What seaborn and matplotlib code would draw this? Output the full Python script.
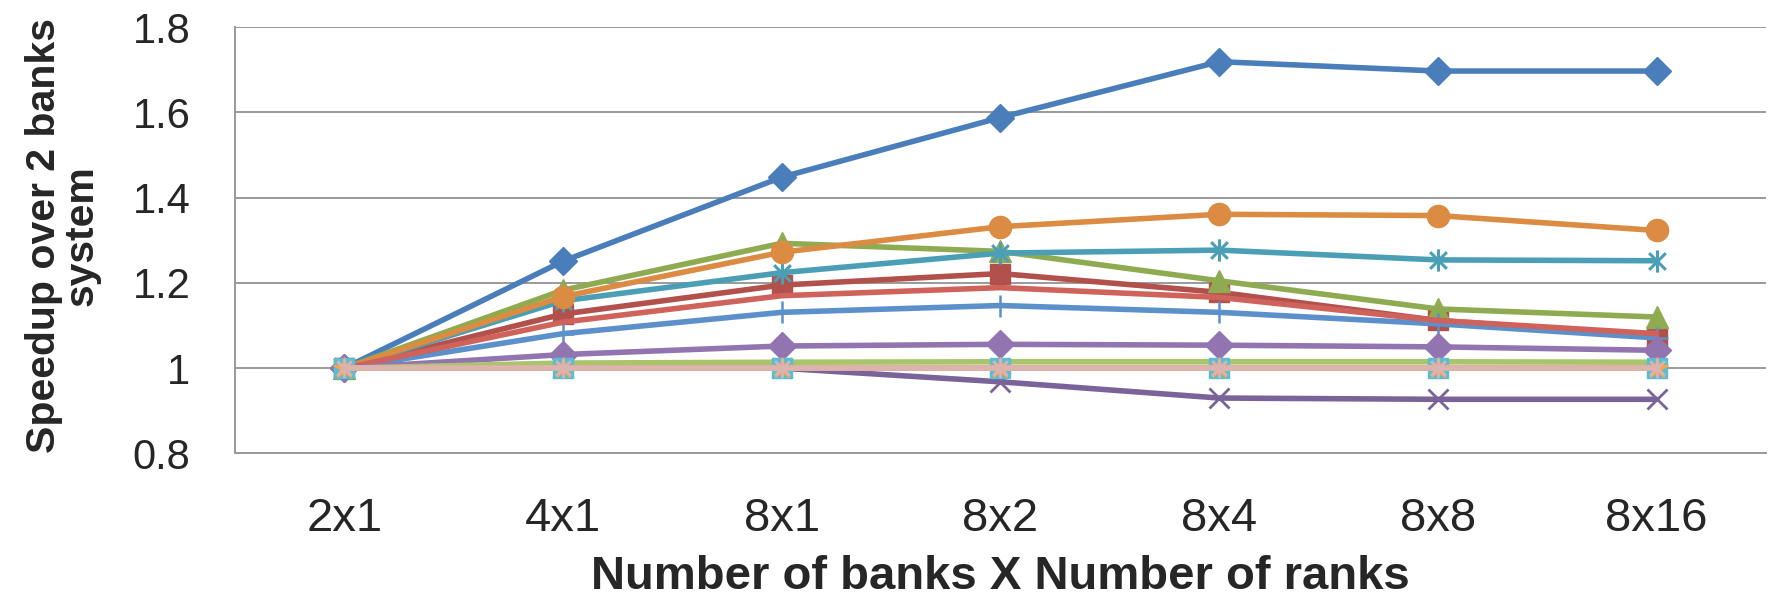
import numpy as np
import pandas as pd
import matplotlib
matplotlib.use('Agg')
import matplotlib.pyplot as plt
from matplotlib.path import Path
import seaborn as sns

# categories on the x axis
configs = ['2x1', '4x1', '8x1', '8x2', '8x4', '8x8', '8x16']

# speedup of each workload
s_blue = [1.0, 1.251, 1.448, 1.588, 1.719, 1.697, 1.697]
s_darkred = [1.0, 1.127, 1.195, 1.222, 1.178, 1.112, 1.076]
s_green = [1.0, 1.183, 1.293, 1.274, 1.205, 1.139, 1.120]
s_purple_x = [1.0, 1.0, 1.0, 0.968, 0.930, 0.927, 0.927]
s_teal = [1.0, 1.158, 1.224, 1.270, 1.277, 1.254, 1.252]
s_orange = [1.0, 1.168, 1.272, 1.332, 1.361, 1.358, 1.323]
s_blue_plus = [1.0, 1.081, 1.131, 1.147, 1.131, 1.104, 1.071]
s_coral = [1.0, 1.108, 1.170, 1.189, 1.166, 1.112, 1.081]
s_lilac = [1.0, 1.032, 1.052, 1.056, 1.054, 1.050, 1.042]
s_lightgreen = [1.0, 1.012, 1.014, 1.015, 1.015, 1.015, 1.014]
s_lightteal = [1.0, 1.0, 1.0, 1.0, 1.0, 1.0, 1.0]
s_lightorange = [1.0, 1.0, 1.0, 1.0, 1.0, 1.0, 1.0]
s_pink = [1.0, 1.0, 1.0, 1.0, 1.0, 1.0, 1.0]

ytick_vals = [0.8, 1.0, 1.2, 1.4, 1.6, 1.8]
ytick_text = ['0.8', '1', '1.2', '1.4', '1.6', '1.8']

# excel style star marker: vertical line + X
star = Path([(0, -1), (0, 1), (-0.75, -0.75), (0.75, 0.75), (-0.75, 0.75), (0.75, -0.75)],
            [Path.MOVETO, Path.LINETO, Path.MOVETO, Path.LINETO, Path.MOVETO, Path.LINETO])

series = [
    (s_blue, '#4A7EBB', 'D', 14, 1),
    (s_darkred, '#B2504C', 's', 15, 1),
    (s_green, '#8FAB52', '^', 16, 1),
    (s_purple_x, '#7A6399', 'x', 14, 2),
    (s_teal, '#4A9FB6', star, 16, 2.2),
    (s_orange, '#DB8B42', 'o', 16, 1),
    (s_blue_plus, '#5B90CB', '+', 16, 1.8),
    (s_coral, '#D0625C', None, 0, 1),
    (s_lilac, '#9275B0', 'D', 14, 1),
    (s_lightgreen, '#A9C46A', None, 0, 1),
    (s_lightteal, '#5BBCD6', 's', 15, 1),
    (s_lightorange, '#F8A54C', '*', 16, 1),
    (s_pink, '#DDB3B0', star, 14, 2),
]

sns.set_style('white')
plt.rcParams['font.family'] = ['Liberation Sans', 'DejaVu Sans']

fig = plt.figure(figsize=(17.73, 6.03), dpi=100)
ax = fig.add_axes([0.1325, 0.248, 0.8635, 0.707])

x = np.arange(len(configs))
for vals, col, mk, ms, mew in series:
    kw = dict(linewidth=4.0, color=col)
    if mk is not None:
        kw.update(marker=mk, markersize=ms, markeredgewidth=mew,
                  markeredgecolor=col, markerfacecolor=col)
    sns.lineplot(x=x, y=vals, ax=ax, **kw)

ax.set_xlim(-0.5, len(configs) - 0.5)
ax.set_ylim(0.8, 1.8)
ax.set_yticks(ytick_vals)
ax.set_yticklabels(ytick_text, fontsize=30)
ax.set_xticks(x)
ax.set_xticklabels(configs, fontsize=34)
ax.set_xticks(np.arange(len(configs) + 1) - 0.5, minor=True)
ax.grid(axis='y', color='#9A9A9A', linewidth=1.4)
ax.set_axisbelow(True)
ax.tick_params(axis='x', which='major', length=0, pad=31)
ax.tick_params(axis='x', which='minor', length=10, width=1.3, color='#9A9A9A', direction='out')
ax.tick_params(axis='y', length=10, width=1.3, color='#9A9A9A', pad=22)
for side in ['top', 'right']:
    ax.spines[side].set_visible(False)
for side in ['left', 'bottom']:
    ax.spines[side].set_color('#9A9A9A')
    ax.spines[side].set_linewidth(1.4)

ax.set_xlabel('Number of banks X Number of ranks', fontsize=34, fontweight='bold')
ax.xaxis.set_label_coords(0.5, -0.29)
ax.xaxis.label.set_va('center')
fig.text(63 / 1773, 1 - 236 / 603, 'Speedup over 2 banks\nsystem', rotation=90,
         ha='center', va='center', multialignment='center',
         fontsize=29.5, fontweight='bold', linespacing=1.0)

fig.savefig('out.png', dpi=100)
